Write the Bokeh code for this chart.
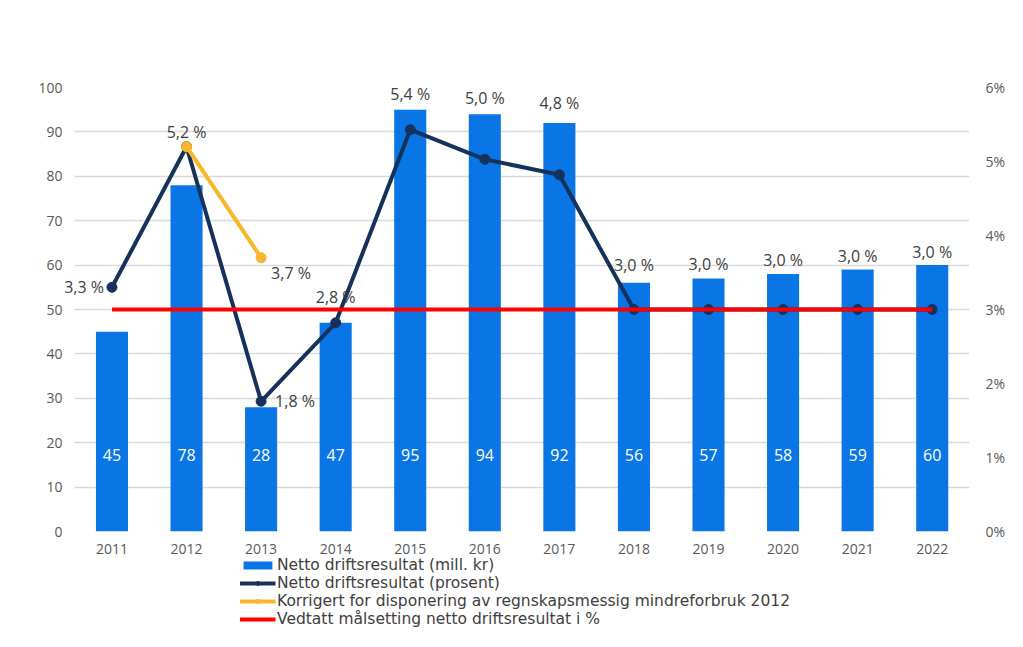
from bokeh.plotting import figure
from bokeh.layouts import column
from bokeh.models import (Range1d, LinearAxis, FixedTicker, PrintfTickFormatter,
                          ColumnDataSource, Legend, LegendItem)
from bokeh.core.properties import value
from bokeh.embed import file_html
from bokeh.resources import INLINE

years = [2011, 2012, 2013, 2014, 2015, 2016, 2017, 2018, 2019, 2020, 2021, 2022]
result_mill = [45, 78, 28, 47, 95, 94, 92, 56, 57, 58, 59, 60]
result_pct = [3.3, 5.2, 1.76, 2.82, 5.43, 5.03, 4.82, 3.0, 3.0, 3.0, 3.0, 3.0]
corr_years = [2012, 2013]
corr_pct = [5.2, 3.7]
target_pct = [3.0, 3.0, 3.0, 3.0, 3.0, 3.0, 3.0, 3.0, 3.0, 3.0, 3.0, 3.0]
left_ticks = [0, 10, 20, 30, 40, 50, 60, 70, 80, 90, 100]
right_ticks = [0, 1, 2, 3, 4, 5, 6]
legend_labels = ["Netto driftsresultat (mill. kr)",
                 "Netto driftsresultat (prosent)",
                 "Korrigert for disponering av regnskapsmessig mindreforbruk 2012",
                 "Vedtatt målsetting netto driftsresultat i %"]

FONT = "Open Sans"
LEG_FONT = "DejaVu Sans"
BLUE = "#0a76e6"
NAVY = "#15325c"
ORANGE = "#f9b52c"
RED = "#ff0000"
TXT = "#595959"
LBL = "#404040"

SCALE = 100 / 6  # left units per percent

p = figure(x_range=Range1d(years[0] - 0.65, years[-1] + 0.5), y_range=Range1d(0, 100),
           frame_width=906, frame_height=444, output_backend="svg", toolbar_location=None,
           min_border_left=63, min_border_right=36, min_border_top=87, min_border_bottom=0)
p.extra_y_ranges = {"pct": Range1d(0, 6)}
p.outline_line_color = None

# axes
p.yaxis.ticker = FixedTicker(ticks=left_ticks)
p.xaxis.ticker = FixedTicker(ticks=years)
p.xaxis.formatter = PrintfTickFormatter(format="%d")

ax2 = LinearAxis(y_range_name="pct", ticker=FixedTicker(ticks=right_ticks),
                 formatter=PrintfTickFormatter(format="%d%%"))
p.add_layout(ax2, "right")
for ax in [p.xaxis[0], p.yaxis[0], ax2]:
    ax.axis_line_color = None
    ax.major_tick_line_color = None
    ax.minor_tick_line_color = None
    ax.major_tick_out = 0
    ax.major_tick_in = 0
    ax.minor_tick_out = 0
    ax.major_label_text_font = FONT
    ax.major_label_text_font_size = "14px"
    ax.major_label_text_color = TXT
p.yaxis.major_label_standoff = 1
p.xaxis.major_label_standoff = 12
ax2.major_label_standoff = 16

p.xgrid.grid_line_color = None
p.ygrid.grid_line_color = "#d9d9d9"
p.ygrid.grid_line_width = 1.5
if "cross_bounds" in p.ygrid[0].properties():
    p.ygrid[0].cross_bounds = (years[0] - 0.5, years[-1] + 0.5)

# bars
src = ColumnDataSource(dict(x=years, top=result_mill,
                            lbl=[str(v) for v in result_mill],
                            ly=[17.3] * len(years)))
p.vbar(x="x", top="top", width=0.43, source=src, color=BLUE, line_color=None)
p.text(x="x", y="ly", text="lbl", source=src, text_color="white",
       text_font=value(FONT), text_font_size="16px", text_align="center",
       text_baseline="middle")

# navy line
p.line(years, result_pct, y_range_name="pct", line_color=NAVY, line_width=4)
p.scatter(years, result_pct, y_range_name="pct", size=10, color=NAVY)

# orange line
p.line(corr_years, corr_pct, y_range_name="pct", line_color=ORANGE, line_width=4)
p.scatter(corr_years, corr_pct, y_range_name="pct", size=10, color=ORANGE)

# red target
p.line(years, target_pct, y_range_name="pct", line_color=RED, line_width=4)

# percent labels
def fmt(v):
    return ("%.1f" % v).replace(".", ",") + " %"

placement = ["left", "above", "right", "above", "above", "above", "above",
             "above", "above", "above", "above", "above"]
lift = [0, -15, 0, -26, -16, -16, -20, -18, -14, -14, -14, -13]
lx, ly, lt, xo, yo, al = [], [], [], [], [], []
for yr, b, v, pl, lf in zip(years, result_mill, result_pct, placement, lift):
    lx.append(yr)
    lt.append(fmt(v))
    if pl == "above":
        ly.append(max(b, v * SCALE))
        xo.append(0); yo.append(lf); al.append("center")
    elif pl == "left":
        ly.append(v * SCALE)
        xo.append(-8); yo.append(0); al.append("right")
    else:
        ly.append(v * SCALE)
        xo.append(14); yo.append(0); al.append("left")
# corrected 2013 label
lx.append(corr_years[1]); lt.append(fmt(corr_pct[1])); ly.append(corr_pct[1] * SCALE)
xo.append(10); yo.append(15); al.append("left")

lsrc = ColumnDataSource(dict(x=lx, y=ly, t=lt, xo=xo, yo=yo, al=al))
p.text(x="x", y="y", text="t", source=lsrc, x_offset="xo", y_offset="yo",
       text_align="al", text_baseline="middle", text_color=LBL,
       text_font=value(FONT), text_font_size="16px")

# legend in its own strip below the chart (its renderers are hidden, only the key shows)
leg = figure(width=1005, height=73, x_range=Range1d(0, 1), y_range=Range1d(0, 1),
             output_backend="svg", toolbar_location=None, x_axis_type=None, y_axis_type=None,
             min_border_left=63, min_border_right=36, min_border_top=0, min_border_bottom=0)
leg.outline_line_color = None
r_bar = leg.vbar(x=years, top=result_mill, width=0.43, color=BLUE, line_color=None)
r_nl = leg.line(years, result_pct, line_color=NAVY, line_width=4)
r_nm = leg.scatter(years, result_pct, size=9, color=NAVY)
r_ol = leg.line(corr_years, corr_pct, line_color=ORANGE, line_width=4)
r_om = leg.scatter(corr_years, corr_pct, size=9, color=ORANGE)
r_rl = leg.line(years, target_pct, line_color=RED, line_width=4)
for r in [r_bar, r_nl, r_nm, r_ol, r_om, r_rl]:
    r.visible = False

legend = Legend(items=[
    LegendItem(label=legend_labels[0], renderers=[r_bar]),
    LegendItem(label=legend_labels[1], renderers=[r_nl, r_nm]),
    LegendItem(label=legend_labels[2], renderers=[r_ol, r_om]),
    LegendItem(label=legend_labels[3], renderers=[r_rl]),
], location="top_center", orientation="vertical")
legend.label_text_font = LEG_FONT
legend.label_text_font_size = "15.5px"
legend.label_text_color = LBL
legend.border_line_color = None
legend.background_fill_alpha = 0
legend.padding = 0
legend.margin = 0
legend.spacing = 0
legend.glyph_width = 36
legend.glyph_height = 10
legend.label_height = 14
legend.label_standoff = 2
leg.add_layout(legend, "center")

layout = column(p, leg)
open("out.html", "w").write(file_html(layout, INLINE))
